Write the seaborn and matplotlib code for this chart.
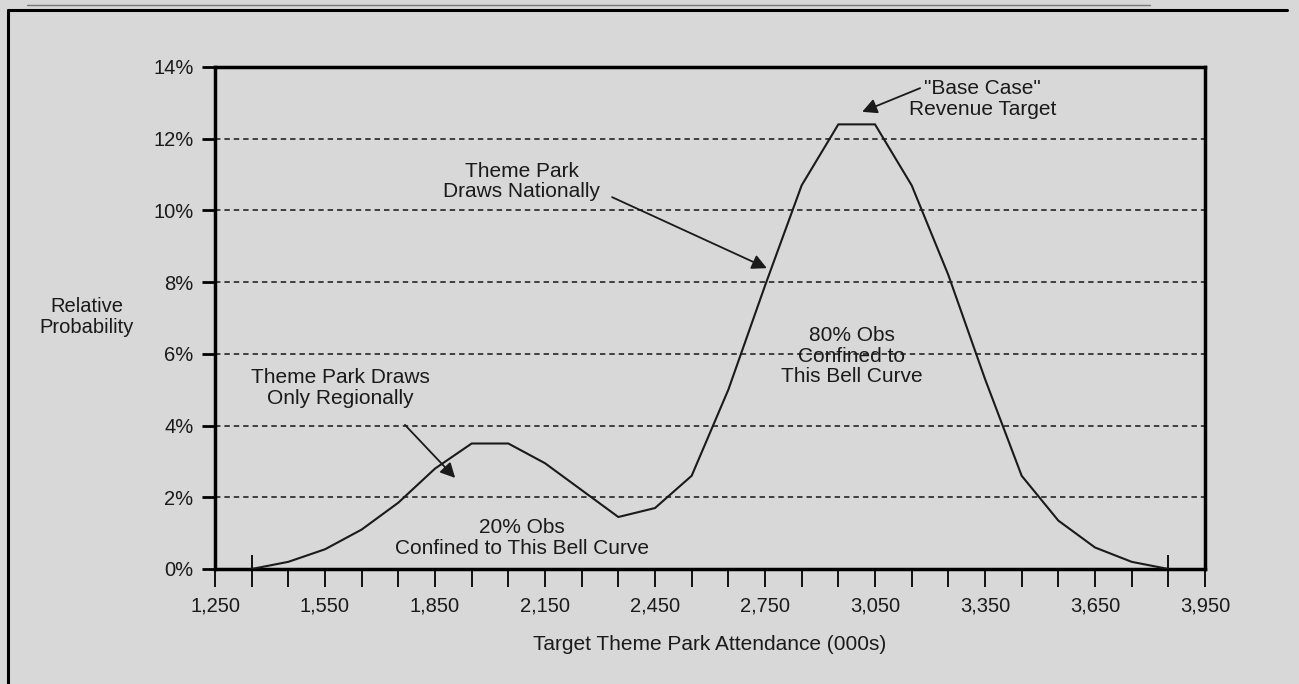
import matplotlib
matplotlib.use("Agg")
from matplotlib import pyplot as plt
from matplotlib.lines import Line2D
from matplotlib.ticker import FixedLocator, FuncFormatter
import seaborn as sns

# attendance (000s) and relative probability (%)
attendance = [1350, 1450, 1550, 1650, 1750, 1850, 1950, 2050, 2150, 2250,
              2350, 2450, 2550, 2650, 2750, 2850, 2950, 3050, 3150, 3250,
              3350, 3450, 3550, 3650, 3750, 3850]
probability = [0.0, 0.2, 0.55, 1.1, 1.85, 2.8, 3.5, 3.5, 2.95, 2.2,
               1.45, 1.7, 2.6, 5.0, 7.9, 10.7, 12.4, 12.4, 10.7, 8.2,
               5.3, 2.6, 1.35, 0.6, 0.2, 0.0]

x_ticks = [1250, 1550, 1850, 2150, 2450, 2750, 3050, 3350, 3650, 3950]
y_ticks = [0, 2, 4, 6, 8, 10, 12, 14]

bg = "#d8d8d8"
ink = "#1a1a1a"

sns.set_style("white", {"axes.facecolor": bg, "figure.facecolor": bg,
                        "xtick.bottom": True, "ytick.left": True})
plt.rcParams["font.family"] = ["Liberation Sans", "DejaVu Sans"]

W, H = 1299, 684
fig = plt.figure(figsize=(W / 100, H / 100), dpi=100, facecolor=bg)
ax = fig.add_axes([215 / W, 1 - 569 / H, (1205 - 215) / W, (569 - 67) / H])
ax.set_facecolor(bg)

# dashed guide lines
for y in y_ticks[1:-1]:
    ax.axhline(y, ls=(0, (3, 2.2)), lw=1.3, color="#333333", zorder=1)

sns.lineplot(x=attendance, y=probability, ax=ax, color=ink, lw=1.5, zorder=3)

ax.set_xlim(x_ticks[0], x_ticks[-1])
ax.set_ylim(y_ticks[0], y_ticks[-1])

for s in ax.spines.values():
    s.set_visible(True)
    s.set_linewidth(2.5)
    s.set_color("black")

minor_x = list(range(x_ticks[0], x_ticks[-1] + 1, 100))
ax.xaxis.set_major_locator(FixedLocator(x_ticks))
ax.xaxis.set_minor_locator(FixedLocator(minor_x))
ax.xaxis.set_major_formatter(FuncFormatter(lambda v, p: f"{v:,.0f}"))
ax.yaxis.set_major_locator(FixedLocator(y_ticks))
ax.yaxis.set_major_formatter(FuncFormatter(lambda v, p: f"{v:.0f}%"))

ax.tick_params(axis="x", which="both", bottom=True, direction="out", length=13, width=1.3,
               color="black", labelsize=14.5, labelcolor=ink, pad=7)
ax.tick_params(axis="y", which="major", left=True, direction="out", length=9.5, width=2,
               color="black", labelsize=14.5, labelcolor=ink, pad=6)

# taller marks where the curve starts and ends
ax.vlines([attendance[0], attendance[-1]], 0, 0.028, transform=ax.get_xaxis_transform(),
          color="black", lw=1.3, clip_on=False)

ax.set_xlabel("Target Theme Park Attendance (000s)", fontsize=15, color=ink, labelpad=14)
ax.set_ylabel("")
fig.text(87 / W, 1 - 317 / H, "Relative\nProbability", ha="center", va="center",
         fontsize=14.5, color=ink, linespacing=1.15)

arrow = dict(arrowstyle="-|>,head_length=0.55,head_width=0.28", color=ink, lw=1.3,
             shrinkA=0, shrinkB=0, mutation_scale=16)
txt = dict(ha="center", va="center", fontsize=15, color=ink, linespacing=1.1)

ax.text(3344, 13.11, "\"Base Case\"\nRevenue Target", **txt)
ax.annotate("", xy=(3015, 12.75), xytext=(3173, 13.41), arrowprops=arrow)

ax.text(2087, 10.81, "Theme Park\nDraws Nationally", **txt)
ax.annotate("", xy=(2755, 8.39), xytext=(2333, 10.37), arrowprops=arrow)

ax.text(1591, 5.05, "Theme Park Draws\nOnly Regionally", **txt)
ax.annotate("", xy=(1905, 2.54), xytext=(1768, 4.02), arrowprops=arrow)

ax.text(2087, 0.86, "20% Obs\nConfined to This Bell Curve", **txt)
ax.text(2987, 5.94, "80% Obs\nConfined to\nThis Bell Curve", **txt)

# page frame lines from the scanned figure
fig.add_artist(Line2D([8 / W, 8 / W], [0, 1 - 10 / H], transform=fig.transFigure,
                      color="black", lw=2.2))
fig.add_artist(Line2D([8 / W, 1287 / W], [1 - 10 / H, 1 - 10 / H], transform=fig.transFigure,
                      color="black", lw=2.2))
fig.add_artist(Line2D([27 / W, 1150 / W], [1 - 5 / H, 1 - 5 / H], transform=fig.transFigure,
                      color="#777777", lw=1.0))

fig.savefig("out.png", dpi=100, facecolor=bg)
